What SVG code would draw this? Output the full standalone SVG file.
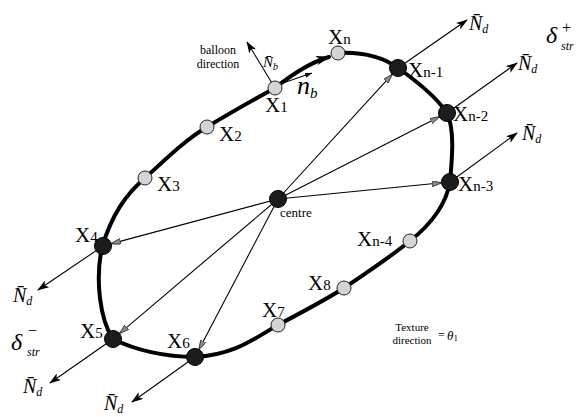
<svg xmlns="http://www.w3.org/2000/svg" width="586" height="417" viewBox="0 0 586 417">
<style>
.t{font-family:"Liberation Serif","Times New Roman",serif;fill:#000}
.lx{font-size:21px}
.sb{font-size:15px}
.it{font-style:italic}
.thin{stroke:#000;stroke-width:1.1;fill:none}
.curve{stroke:#000;stroke-width:4;fill:none;stroke-linejoin:round;stroke-linecap:round}
.lt{fill:#d4d4d4;stroke:#222;stroke-width:1}
.dk{fill:#1c1c1c;stroke:#000;stroke-width:1}
</style>
<defs>
<marker id="ah" viewBox="0 0 12 8" refX="11" refY="4" markerWidth="12" markerHeight="8" markerUnits="userSpaceOnUse" orient="auto">
<path d="M0,0 L12,4 L0,8 L3,4 z" fill="#000"/>
</marker>
<marker id="ahb" viewBox="0 0 12 8" refX="11" refY="4" markerWidth="14" markerHeight="10" markerUnits="userSpaceOnUse" orient="auto">
<path d="M0,0 L12,4 L0,8 L3,4 z" fill="#000"/>
</marker>
<marker id="gh" viewBox="0 0 10 6" refX="10" refY="3" markerWidth="10" markerHeight="6" markerUnits="userSpaceOnUse" orient="auto">
<path d="M0,0 L10,3 L0,6 z" fill="#888" stroke="#000" stroke-width="0.6"/>
</marker>
<marker id="sh" viewBox="0 0 7 5" refX="7" refY="2.5" markerWidth="7" markerHeight="5" markerUnits="userSpaceOnUse" orient="auto">
<path d="M0,0 L7,2.5 L0,5 z" fill="#000"/>
</marker>
</defs>
<rect width="586" height="417" fill="#fff"/>

<g id="connectors">
<path class="curve" d="M102,247 C112,215 125,195 145,178 C165,160 185,140 207,127 C230,113 255,99 275,88"/>
<path class="curve" d="M275,88 C290,76 308,63 329,57" marker-end="url(#ahb)"/>
<path class="curve" d="M338,53 C360,52 380,55 398,68 C415,80 435,95 447,113 C455,130 452,160 450,182 C446,205 430,225 410,241 C390,257 365,274 344,288 C322,302 300,313 278,325 C255,338 235,355 195,357 C165,357 135,350 113,339 C100,320 95,280 102,247"/>
<line class="thin" x1="278" y1="199" x2="392.6" y2="73.9" marker-end="url(#gh)"/>
<line class="thin" x1="278" y1="199" x2="439.9" y2="116.6" marker-end="url(#gh)"/>
<line class="thin" x1="278" y1="199" x2="442.1" y2="182.8" marker-end="url(#gh)"/>
<line class="thin" x1="278" y1="199" x2="110.7" y2="243.9" marker-end="url(#gh)"/>
<line class="thin" x1="278" y1="199" x2="119.1" y2="333.8" marker-end="url(#gh)"/>
<line class="thin" x1="278" y1="199" x2="198.7" y2="349.9" marker-end="url(#gh)"/>
<line class="thin" x1="398" y1="68" x2="467" y2="20" marker-end="url(#ah)"/>
<line class="thin" x1="447" y1="113" x2="517" y2="63" marker-end="url(#ah)"/>
<line class="thin" x1="450" y1="182" x2="517" y2="133" marker-end="url(#ah)"/>
<line class="thin" x1="103" y1="246" x2="38" y2="290" marker-end="url(#ah)"/>
<line class="thin" x1="113" y1="339" x2="50" y2="383" marker-end="url(#ah)"/>
<line class="thin" x1="195" y1="357" x2="132" y2="402" marker-end="url(#ah)"/>
<line class="thin" x1="275" y1="88" x2="247" y2="42" marker-end="url(#ah)"/>
<line class="thin" x1="280" y1="84" x2="312" y2="73" marker-end="url(#sh)"/>
</g>

<g id="centre"><circle class="dk" cx="278" cy="199" r="8.5"/><text class="t" x="280" y="217" font-size="13">centre</text></g>
<g id="X1"><circle class="lt" cx="275" cy="88" r="7"/><text class="t lx" x="265" y="112">X<tspan class="sb">1</tspan></text></g>
<g id="X2"><circle class="lt" cx="207" cy="127" r="7"/><text class="t lx" x="219" y="141">X<tspan class="sb">2</tspan></text></g>
<g id="X3"><circle class="lt" cx="145" cy="178" r="7"/><text class="t lx" x="157" y="191">X<tspan class="sb">3</tspan></text></g>
<g id="X4"><circle class="dk" cx="103" cy="246" r="8.5"/><text class="t lx" x="75" y="242">X<tspan class="sb">4</tspan></text></g>
<g id="X5"><circle class="dk" cx="113" cy="339" r="8.5"/><text class="t lx" x="80" y="338">X<tspan class="sb">5</tspan></text></g>
<g id="X6"><circle class="dk" cx="195" cy="357" r="8.5"/><text class="t lx" x="167" y="348">X<tspan class="sb">6</tspan></text></g>
<g id="X7"><circle class="lt" cx="278" cy="325" r="7"/><text class="t lx" x="262" y="317">X<tspan class="sb">7</tspan></text></g>
<g id="X8"><circle class="lt" cx="344" cy="288" r="7"/><text class="t lx" x="308" y="290">X<tspan class="sb">8</tspan></text></g>
<g id="Xn-4"><circle class="lt" cx="410" cy="241" r="7"/><text class="t lx" x="357" y="246">X<tspan class="sb">n-4</tspan></text></g>
<g id="Xn-3"><circle class="dk" cx="450" cy="182" r="8.5"/><text class="t lx" x="458" y="191">X<tspan class="sb">n-3</tspan></text></g>
<g id="Xn-2"><circle class="dk" cx="447" cy="113" r="8.5"/><text class="t lx" x="453" y="121">X<tspan class="sb">n-2</tspan></text></g>
<g id="Xn-1"><circle class="dk" cx="398" cy="68" r="8.5"/><text class="t lx" x="408" y="77">X<tspan class="sb">n-1</tspan></text></g>
<g id="Xn"><circle class="lt" cx="338" cy="53" r="7"/><text class="t lx" x="328" y="44">X<tspan class="sb">n</tspan></text></g>

<g id="labels">
<text class="t" x="218" y="54" font-size="12" text-anchor="middle">balloon</text>
<text class="t" x="218" y="68" font-size="12" text-anchor="middle">direction</text>
<text class="t it" x="263" y="67" font-size="15">N̄<tspan font-size="10" dy="3">b</tspan></text>
<text class="t it" x="297" y="94" font-size="26">n<tspan font-size="15" dy="4">b</tspan></text>
<text class="t it" x="469" y="30" font-size="20">N̄<tspan font-size="12" dy="3">d</tspan></text>
<text class="t it" x="518" y="70" font-size="20">N̄<tspan font-size="12" dy="3">d</tspan></text>
<text class="t it" x="522" y="140" font-size="20">N̄<tspan font-size="12" dy="3">d</tspan></text>
<text class="t it" x="13" y="302" font-size="20">N̄<tspan font-size="12" dy="3">d</tspan></text>
<text class="t it" x="23" y="393" font-size="20">N̄<tspan font-size="12" dy="3">d</tspan></text>
<text class="t it" x="104" y="410" font-size="20">N̄<tspan font-size="12" dy="3">d</tspan></text>
<text class="t it" x="546" y="43" font-size="24">δ</text>
<text class="t" x="562" y="33" font-size="16">+</text>
<text class="t it" x="561" y="50" font-size="12">str</text>
<text class="t it" x="11" y="350" font-size="24">δ</text>
<text class="t" x="28" y="336" font-size="16">−</text>
<text class="t it" x="27" y="356" font-size="12">str</text>
<text class="t" x="412" y="331" font-size="11" text-anchor="middle">Texture</text>
<text class="t" x="412" y="344" font-size="11" text-anchor="middle">direction</text>
<text class="t" x="438" y="339" font-size="12">=</text>
<text class="t it" x="447" y="340" font-size="13">θ<tspan font-size="9" dy="1" font-style="normal">1</tspan></text>
</g>
</svg>
